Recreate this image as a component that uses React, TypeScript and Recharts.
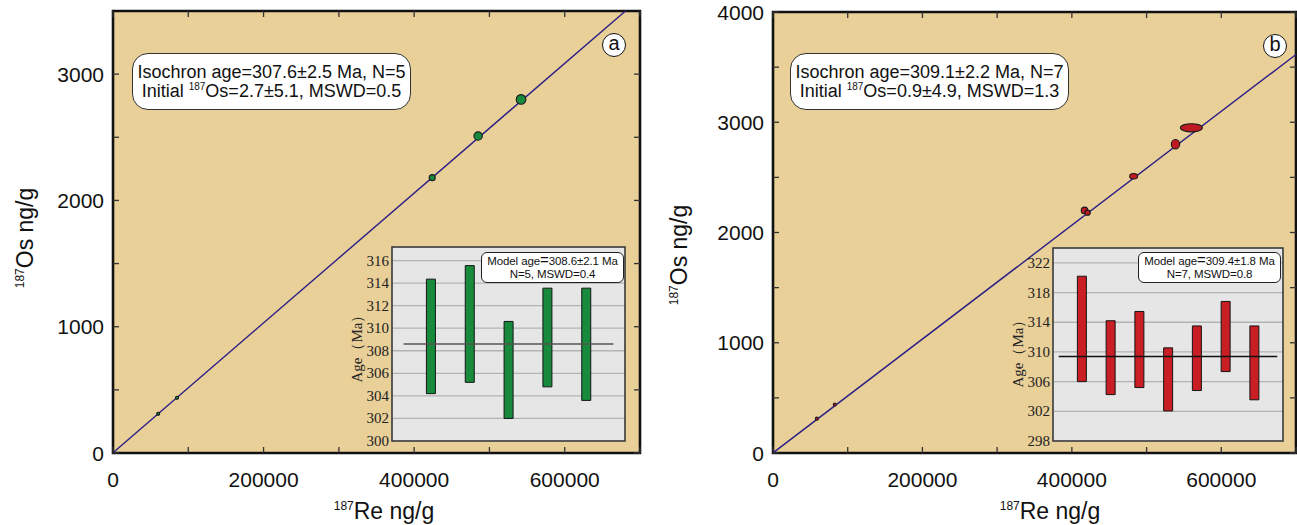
import React from 'react';
import {
  ScatterChart, Scatter, BarChart, Bar, XAxis, YAxis,
  CartesianGrid, ReferenceLine, ReferenceArea,
} from 'recharts';

// 187Re decay constant (1/yr)
const LAMBDA = 1.666e-11;

// ---- panel (a) isochron ----
const reA = [60000, 85000, 424000, 485000, 542000];
const osA = [310, 437, 2180, 2510, 2800];
const reErrA = [2000, 2000, 4000, 5600, 6400];
const osErrA = [12, 12, 24, 33, 38];
const ageA = 307.6;
const initA = 2.7;

// ---- panel (b) isochron ----
const reB = [58700, 82700, 417000, 421000, 482700, 538700, 560000];
const osB = [311, 439, 2200, 2180, 2510, 2800, 2950];
const reErrB = [2000, 2000, 4400, 3600, 5300, 5600, 14700];
const osErrB = [14, 14, 30, 23, 25, 43, 37];
const ageB = 309.1;
const initB = 0.9;

const xTicks = [0, 100000, 200000, 300000, 400000, 500000, 600000, 700000];
const yTicksA = [0, 500, 1000, 1500, 2000, 2500, 3000];
const yTicksB = [0, 500, 1000, 1500, 2000, 2500, 3000, 3500, 4000];

// ---- model age insets ----
const lowA = [304.2, 305.2, 302.0, 304.8, 303.6];
const highA = [314.35, 315.55, 310.6, 313.55, 313.55];
const meanA = 308.6;
const ageTicksA = [300, 302, 304, 306, 308, 310, 312, 314, 316];

const lowB = [306.0, 304.25, 305.2, 302.05, 304.8, 307.35, 303.55];
const highB = [320.2, 314.2, 315.45, 310.55, 313.5, 316.8, 313.5];
const meanB = 309.4;
const ageTicksB = [298, 302, 306, 310, 314, 318, 322];

const H = 525;
const SANS = '"Liberation Sans", Arial, Helvetica, sans-serif';
const SERIF = '"Liberation Serif", "Times New Roman", serif';

const Sup = ({ size, lift }: { size: number; lift: number }) => (
  <span style={{ fontSize: size, position: 'relative', top: -lift }}>187</span>
);

const IsoPanel = (p: any) => {
  const right = p.width - p.plotLeft - p.plotW;
  const bottom = H - p.plotTop - p.plotH;
  const slope = Math.exp(LAMBDA * p.age * 1e6) - 1;
  const xEnd = Math.min(p.xMax, (p.yMax - p.init) / slope);
  const kx = p.plotW / p.xMax;
  const ky = p.plotH / p.yMax;
  const data = p.re.map((x: number, i: number) => ({ x, y: p.os[i], ex: p.reErr[i], ey: p.osErr[i] }));
  const yB = p.plotTop + p.plotH;
  const xR = p.plotLeft + p.plotW;

  const xTick = (t: any) => {
    const v = t.payload.value;
    return (
      <g>
        <line x1={t.x} x2={t.x} y1={yB} y2={yB - 6} stroke="#333" strokeWidth={1.3} />
        <line x1={t.x} x2={t.x} y1={p.plotTop} y2={p.plotTop + 6} stroke="#333" strokeWidth={1.3} />
        {v % 200000 === 0 && (
          <text x={t.x} y={yB + 26} textAnchor="middle" dominantBaseline="central"
            fontSize={21} fontFamily={SANS} fill="#111">{v}</text>
        )}
      </g>
    );
  };

  const yTick = (t: any) => {
    const v = t.payload.value;
    return (
      <g>
        <line x1={p.plotLeft} x2={p.plotLeft + 6} y1={t.y} y2={t.y} stroke="#333" strokeWidth={1.3} />
        <line x1={xR} x2={xR - 6} y1={t.y} y2={t.y} stroke="#333" strokeWidth={1.3} />
        {v % 1000 === 0 && (
          <text x={p.plotLeft - 9} y={t.y} textAnchor="end" dominantBaseline="central"
            fontSize={21} fontFamily={SANS} fill="#111">{v}</text>
        )}
      </g>
    );
  };

  return (
    <div style={{ position: 'absolute', left: p.left, top: 0 }}>
      <ScatterChart width={p.width} height={H} margin={{ top: p.plotTop, left: 0, right, bottom: 0 }}>
        <CartesianGrid horizontal={false} vertical={false} fill="#e9cf98" />
        <XAxis type="number" dataKey="x" domain={[0, p.xMax]} ticks={xTicks} interval={0} height={bottom}
          axisLine={false} tickLine={false} tick={xTick} allowDataOverflow />
        <YAxis type="number" dataKey="y" domain={[0, p.yMax]} ticks={p.yTicks} interval={0} width={p.plotLeft}
          axisLine={false} tickLine={false} tick={yTick} allowDataOverflow />
        <ReferenceLine
          segment={[{ x: 0, y: p.init }, { x: xEnd, y: p.init + slope * xEnd }]}
          stroke="#2a1f86" strokeWidth={1.4} ifOverflow="visible" />
        <Scatter data={data} isAnimationActive={false}
          shape={(s: any) => (
            <ellipse cx={s.cx} cy={s.cy}
              rx={Math.max(1.4, s.payload.ex * kx)} ry={Math.max(1.4, s.payload.ey * ky)}
              fill={p.fill} stroke="#1a1a1a" strokeWidth={1.1} />
          )} />
        <ReferenceArea x1={0} x2={p.xMax} y1={0} y2={p.yMax} fill="none" stroke="#111"
          strokeWidth={2.6} ifOverflow="visible" />
      </ScatterChart>
    </div>
  );
};

const AgeInset = (p: any) => {
  const data = p.low.map((l: number, i: number) => ({ i: i + 1, range: [l, p.high[i]] }));
  const n = data.length;
  const yTick = (t: any) => (
    <text x={p.margin.left - 3} y={t.y} textAnchor="end" dominantBaseline="central"
      fontSize={15} fontFamily={SERIF} fill="#222">{t.payload.value}</text>
  );
  const mean = (
    <ReferenceLine
      segment={[{ x: p.lineIn, y: p.mean }, { x: n + 1 - p.lineIn, y: p.mean }]}
      stroke={p.meanColor} strokeWidth={1.5} ifOverflow="visible" />
  );
  return (
    <div style={{ position: 'absolute', left: p.left, top: p.top }}>
      <BarChart width={p.width} height={p.height} data={data}
        margin={{ top: p.margin.top, right: p.margin.right, bottom: p.margin.bottom, left: 0 }}>
        <CartesianGrid vertical={false} fill="#e6e6e6" stroke="#b3b3b3" strokeWidth={1.3} />
        <XAxis type="number" dataKey="i" domain={[0, n + 1]} hide />
        <YAxis type="number" domain={[p.yMin, p.yMax]} ticks={p.ticks} interval={0} width={p.margin.left}
          axisLine={false} tickLine={false} tick={yTick} allowDataOverflow />
        {!p.meanOnTop && mean}
        <Bar dataKey="range" fill={p.fill} stroke="#151515" strokeWidth={1} barSize={9}
          isAnimationActive={false} />
        {p.meanOnTop && mean}
        <ReferenceArea x1={0} x2={n + 1} y1={p.yMin} y2={p.yMax} fill="none" stroke="#3a3a3a"
          strokeWidth={1.6} ifOverflow="visible" />
      </BarChart>
    </div>
  );
};

const IsoBox = ({ left, lines }: { left: number; lines: React.ReactNode[] }) => (
  <div style={{
    position: 'absolute', left, top: 53, width: 279, height: 57, boxSizing: 'border-box',
    background: '#fff', border: '1.3px solid #333', borderRadius: 16,
    fontFamily: SANS, fontSize: 18, lineHeight: '19px', color: '#111', textAlign: 'center',
    paddingTop: 9, whiteSpace: 'nowrap',
  }}>
    <div>{lines[0]}</div>
    <div>{lines[1]}</div>
  </div>
);

const ModelBox = ({ left, age, n, mswd }: { left: number; age: string; n: number; mswd: string }) => (
  <div style={{
    position: 'absolute', left, top: 252, width: 143, height: 31, boxSizing: 'border-box',
    background: '#fff', border: '1px solid #222', borderRadius: 6,
    fontFamily: SANS, fontSize: 11.5, lineHeight: '13px', color: '#111', textAlign: 'center',
    paddingTop: 2, whiteSpace: 'nowrap', letterSpacing: -0.1,
  }}>
    <div>Model age<span style={{ fontSize: 15, lineHeight: '10px' }}>=</span>{age} Ma</div>
    <div>N={n}, MSWD={mswd}</div>
  </div>
);

const Circle = ({ cx, cy, letter }: { cx: number; cy: number; letter: string }) => (
  <div style={{
    position: 'absolute', left: cx - 12, top: cy - 12, width: 24, height: 24, boxSizing: 'border-box',
    borderRadius: '50%', border: '1.6px solid #111', background: '#fff',
    fontFamily: SANS, fontSize: 20, lineHeight: '19px', textAlign: 'center', color: '#111',
  }}>{letter}</div>
);

const VText = ({ cx, cy, children, style }: any) => (
  <div style={{
    position: 'absolute', left: cx, top: cy, transform: 'translate(-50%, -50%) rotate(-90deg)',
    whiteSpace: 'nowrap', ...style,
  }}>{children}</div>
);

const HText = ({ cx, cy, children, style }: any) => (
  <div style={{
    position: 'absolute', left: cx, top: cy, transform: 'translate(-50%, -50%)',
    whiteSpace: 'nowrap', ...style,
  }}>{children}</div>
);

export default function App() {
  const titleStyle = { fontFamily: SANS, fontSize: 23, color: '#111' };
  const ageStyle = { fontFamily: SERIF, fontSize: 15, color: '#222' };
  return (
    <div style={{
      position: 'absolute', left: 0, top: 0, width: 1297, height: H, background: '#fff',
      overflow: 'hidden',
    }}>
      <IsoPanel left={0} width={650} plotLeft={113} plotTop={11} plotW={527} plotH={442}
        xMax={700000} yMax={3500} yTicks={yTicksA}
        re={reA} os={osA} reErr={reErrA} osErr={osErrA} age={ageA} init={initA} fill="#178a3c" />
      <IsoPanel left={655} width={642} plotLeft={118} plotTop={12} plotW={523} plotH={441}
        xMax={700000} yMax={4000} yTicks={yTicksB}
        re={reB} os={osB} reErr={reErrB} osErr={osErrB} age={ageB} init={initB} fill="#bf1a22" />

      <AgeInset left={340} top={240} width={290} height={210}
        margin={{ top: 7, left: 52, right: 5, bottom: 9 }}
        low={lowA} high={highA} mean={meanA} yMin={300} yMax={317.2} ticks={ageTicksA}
        fill="#178a3c" meanColor="#555" lineIn={0.3} meanOnTop={false} />
      <AgeInset left={1000} top={240} width={290} height={210}
        margin={{ top: 8, left: 53, right: 7, bottom: 9 }}
        low={lowB} high={highB} mean={meanB} yMin={298} yMax={324} ticks={ageTicksB}
        fill="#c81e24" meanColor="#111" lineIn={0.2} meanOnTop={true} />

      <IsoBox left={132} lines={[
        `Isochron age=${ageA}±2.5 Ma, N=${reA.length}`,
        <>Initial <Sup size={10} lift={7} />Os={initA}±5.1, MSWD=0.5</>,
      ]} />
      <IsoBox left={790} lines={[
        `Isochron age=${ageB}±2.2 Ma, N=${reB.length}`,
        <>Initial <Sup size={10} lift={7} />Os={initB}±4.9, MSWD=1.3</>,
      ]} />

      <ModelBox left={481} age="308.6±2.1" n={lowA.length} mswd="0.4" />
      <ModelBox left={1138} age="309.4±1.8" n={lowB.length} mswd="0.8" />

      <Circle cx={614} cy={45} letter="a" />
      <Circle cx={1275} cy={46} letter="b" />

      <VText cx={25} cy={238} style={titleStyle}><Sup size={12} lift={9} />Os ng/g</VText>
      <VText cx={679} cy={255} style={titleStyle}><Sup size={12} lift={9} />Os ng/g</VText>
      <HText cx={384} cy={511} style={titleStyle}><Sup size={12} lift={9} />Re ng/g</HText>
      <HText cx={1050} cy={511} style={titleStyle}><Sup size={12} lift={9} />Re ng/g</HText>

      <VText cx={357} cy={345} style={ageStyle}>Age（Ma）</VText>
      <VText cx={1018} cy={350} style={ageStyle}>Age（Ma）</VText>
    </div>
  );
}
